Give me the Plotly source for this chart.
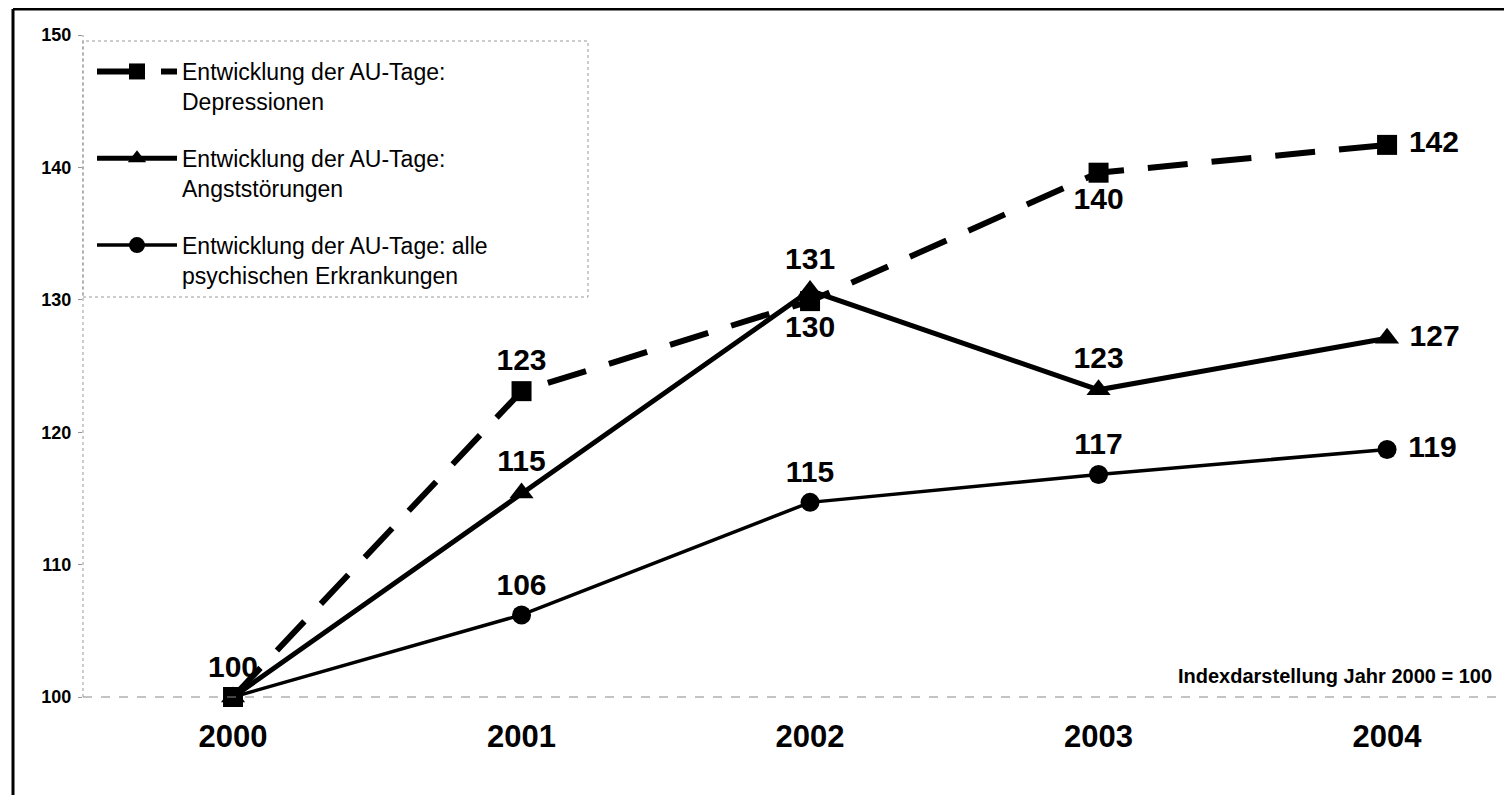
import plotly.graph_objects as go

years = ["2000", "2001", "2002", "2003", "2004"]
x_pos = [0, 1, 2, 3, 4]

depressionen = [100, 123.1, 129.9, 139.6, 141.7]
angst = [100, 115.4, 130.7, 123.2, 127.1]
alle = [100, 106.2, 114.7, 116.8, 118.7]

names = [
    "Entwicklung der AU-Tage:<br>Depressionen",
    "Entwicklung der AU-Tage:<br>Angststörungen",
    "Entwicklung der AU-Tage: alle<br>psychischen Erkrankungen",
]

pos_dep = ["top center", "top center", "bottom center", "bottom center", "middle right"]
pos_angst = ["top center", "top center", "top center", "top center", "middle right"]
pos_alle = ["top center", "top center", "top center", "top center", "middle right"]

y_ticks = [100, 110, 120, 130, 140, 150]


def labels(vals, show_first):
    out = [f"{v:.0f}" for v in vals]
    if not show_first:
        out[0] = ""
    out[-1] = " " + out[-1]  # right-hand labels sit a little further out
    return out


FONT = "Arial, Liberation Sans, sans-serif"
label_font = dict(family=FONT, size=30, color="black", weight="bold")

fig = go.Figure()
fig.add_trace(go.Scatter(
    x=x_pos, y=depressionen, name=names[0], legendgroup="a",
    mode="lines+markers+text",
    line=dict(color="black", width=6, dash="40px,24px"),
    marker=dict(symbol="square", size=20, color="black"),
    text=labels(depressionen, False), textposition=pos_dep,
    textfont=label_font, cliponaxis=False,
))
fig.add_trace(go.Scatter(
    x=x_pos, y=angst, name=names[1], legendgroup="b",
    mode="lines+markers+text",
    line=dict(color="black", width=5),
    marker=dict(symbol="triangle-up", size=21, color="black"),
    text=labels(angst, False), textposition=pos_angst,
    textfont=label_font, cliponaxis=False,
))
fig.add_trace(go.Scatter(
    x=x_pos, y=alle, name=names[2], legendgroup="c",
    mode="lines+markers+text",
    line=dict(color="black", width=3.5),
    marker=dict(symbol="circle", size=19, color="black"),
    text=labels(alle, True), textposition=pos_alle,
    textfont=label_font, cliponaxis=False,
))

# page is shown with an 8px body margin
OFF = 8
W, H = 1512 - OFF, 795 - OFF
L, R, T, B = 83 - OFF, 0, 35 - OFF, 98
pw, ph = W - L - R, H - T - B


def px_x(p):
    return (p - OFF - L) / pw


def px_y(p):
    return (H - B - (p - OFF)) / ph


fig.update_layout(
    width=W, height=H,
    margin=dict(l=L, r=R, t=T, b=B),
    paper_bgcolor="white", plot_bgcolor="white",
    font=dict(family=FONT, color="black"),
    xaxis=dict(
        range=[-0.52, 4.433], tickvals=x_pos, ticktext=years,
        showgrid=False, zeroline=False, showline=False,
        ticks="", tickfont=dict(family=FONT, size=31, weight="bold"),
        ticklabelstandoff=18,
    ),
    yaxis=dict(
        range=[100, 150], tickvals=y_ticks,
        showgrid=False, zeroline=False, showline=False,
        ticks="outside", ticklen=4, tickcolor="#999",
        tickfont=dict(family=FONT, size=18, weight="bold"),
        ticklabelstandoff=3,
    ),
    legend=dict(
        x=px_x(92), y=px_y(50), xanchor="left", yanchor="top",
        bgcolor="rgba(0,0,0,0)", borderwidth=0,
        font=dict(family=FONT, size=23, color="black"),
        valign="top", tracegroupgap=24, itemwidth=80,
    ),
    showlegend=True,
    shapes=[
        # outer frame (top and left)
        dict(type="line", xref="paper", yref="paper",
             x0=px_x(13), x1=1.01, y0=px_y(9), y1=px_y(9),
             line=dict(color="black", width=3)),
        dict(type="line", xref="paper", yref="paper",
             x0=px_x(13), x1=px_x(13), y0=px_y(9), y1=px_y(800),
             line=dict(color="black", width=3)),
        # axes (dotted grey)
        dict(type="line", xref="paper", yref="paper",
             x0=0, x1=0, y0=0, y1=1,
             line=dict(color="#999", width=1, dash="dot")),
        dict(type="line", xref="paper", yref="paper",
             x0=0, x1=1, y0=0, y1=0,
             line=dict(color="#888", width=1, dash="dash")),
        # legend box
        dict(type="rect", xref="paper", yref="paper",
             x0=0, x1=px_x(588), y0=px_y(297), y1=px_y(41),
             line=dict(color="#999", width=1, dash="dot")),
    ],
    annotations=[
        dict(text="Indexdarstellung Jahr 2000 = 100", xref="paper", yref="paper",
             x=px_x(1494), y=px_y(676), xanchor="right", yanchor="middle",
             showarrow=False, font=dict(family=FONT, size=20, weight="bold")),
    ],
)

fig.write_html("out.html")
